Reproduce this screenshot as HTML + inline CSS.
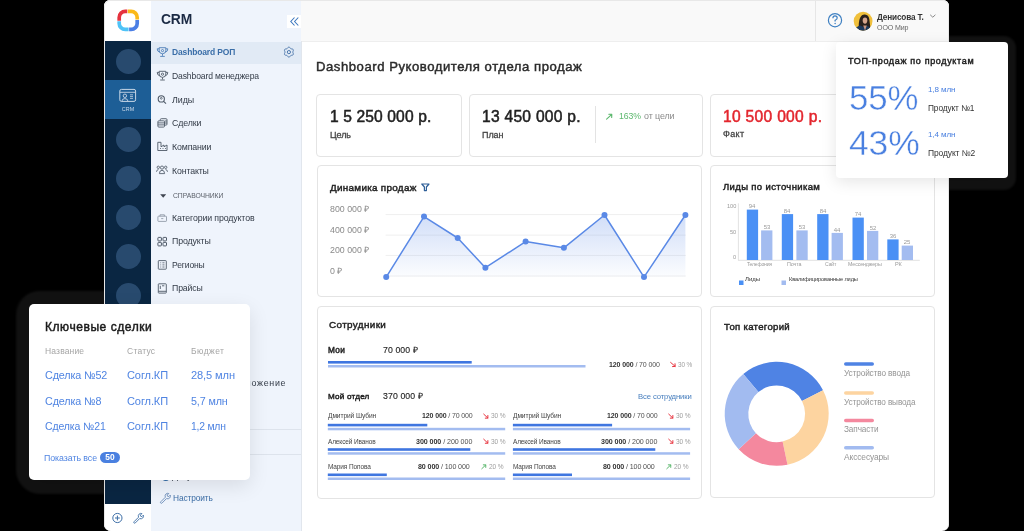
<!DOCTYPE html><html><head><meta charset="utf-8"><title>CRM Dashboard</title><style>
*{margin:0;padding:0;box-sizing:border-box}
html,body{width:1024px;height:531px;overflow:hidden;background:#000}
body{position:relative;font-family:"Liberation Sans",sans-serif}
.t{position:absolute;white-space:nowrap;line-height:1;will-change:transform}
#win{position:absolute;left:0;top:0;width:1024px;height:531px;clip-path:inset(0px 75px 0px 104px round 6px 6px 7px 7px);background:#fff}
svg.ov{position:absolute;left:0;top:0;width:1024px;height:531px}
.bl{display:inline-block;width:0;height:0;vertical-align:baseline}
.m{-webkit-text-stroke:0.25px currentColor}
</style></head><body>
<div style="position:absolute;left:15.5px;top:291px;width:260px;height:203px;border-radius:24px;background:#121212;filter:blur(0.8px)"></div>
<div style="position:absolute;left:820px;top:36px;width:195.5px;height:153.5px;border-radius:12px;background:#121212;filter:blur(0.8px)"></div>
<div id="win">
<div style="position:absolute;left:104px;top:0px;width:47px;height:41px;background:#fff"></div>
<div style="position:absolute;left:151px;top:0px;width:150px;height:41px;background:#eff4fc"></div>
<div style="position:absolute;left:301px;top:0px;width:648px;height:42px;background:#f9f9f9;border-bottom:1.4px solid #eeeeee"></div>
<div style="position:absolute;left:815px;top:0px;width:1px;height:41px;background:#e6e6e6"></div>
<div style="position:absolute;left:105px;top:41px;width:46px;height:463px;background:#0a2642"></div>
<div style="position:absolute;left:105px;top:80px;width:46px;height:39px;background:#1d5e96"></div>
<div style="position:absolute;left:104px;top:504px;width:47px;height:27px;background:#fff"></div>
<div style="position:absolute;left:151px;top:41px;width:151px;height:490px;background:#eff4fc;border-right:1px solid #e1e6ed"></div>
<div style="position:absolute;left:151px;top:41.5px;width:150px;height:22px;background:#e1eaf5"></div>
<div style="position:absolute;left:151px;top:429px;width:150px;height:1px;background:#dde3ec"></div>
<div style="position:absolute;left:151px;top:453.5px;width:150px;height:1px;background:#dde3ec"></div>
<div style="position:absolute;left:116.0px;top:48.5px;width:25px;height:25px;border-radius:50%;background:#284a6e"></div>
<div style="position:absolute;left:116.0px;top:127.0px;width:25px;height:25px;border-radius:50%;background:#284a6e"></div>
<div style="position:absolute;left:116.0px;top:166.0px;width:25px;height:25px;border-radius:50%;background:#284a6e"></div>
<div style="position:absolute;left:116.0px;top:205.0px;width:25px;height:25px;border-radius:50%;background:#284a6e"></div>
<div style="position:absolute;left:116.0px;top:244.0px;width:25px;height:25px;border-radius:50%;background:#284a6e"></div>
<div style="position:absolute;left:116.0px;top:283.0px;width:25px;height:25px;border-radius:50%;background:#284a6e"></div>
<div style="position:absolute;left:116.0px;top:322.0px;width:25px;height:25px;border-radius:50%;background:#284a6e"></div>
<div style="position:absolute;left:116.0px;top:361.0px;width:25px;height:25px;border-radius:50%;background:#284a6e"></div>
<div style="position:absolute;left:116.0px;top:400.0px;width:25px;height:25px;border-radius:50%;background:#284a6e"></div>
<div style="position:absolute;left:116.0px;top:439.0px;width:25px;height:25px;border-radius:50%;background:#284a6e"></div>
<div style="position:absolute;left:287px;top:15px;width:14px;height:13px;background:#fff"></div>
<div style="position:absolute;left:316px;top:94px;width:146px;height:62.5px;border:1px solid #e4e4e4;border-radius:4px;background:#fff"></div>
<div style="position:absolute;left:468.5px;top:94px;width:234px;height:62.5px;border:1px solid #e4e4e4;border-radius:4px;background:#fff"></div>
<div style="position:absolute;left:709.5px;top:94px;width:226px;height:62.5px;border:1px solid #e4e4e4;border-radius:4px;background:#fff"></div>
<div style="position:absolute;left:316.5px;top:165px;width:385.5px;height:132px;border:1px solid #e4e4e4;border-radius:4px;background:#fff"></div>
<div style="position:absolute;left:709.5px;top:165px;width:225px;height:132px;border:1px solid #e4e4e4;border-radius:4px;background:#fff"></div>
<div style="position:absolute;left:316.5px;top:305.5px;width:385.5px;height:193px;border:1px solid #e4e4e4;border-radius:4px;background:#fff"></div>
<div style="position:absolute;left:709.5px;top:305.5px;width:225px;height:192px;border:1px solid #e4e4e4;border-radius:4px;background:#fff"></div>
<div style="position:absolute;left:595px;top:106px;width:1px;height:37px;background:#e3e3e3"></div>
<svg class="ov" viewBox="0 0 1024 531"><defs><linearGradient id="lg" x1="0" y1="0" x2="0" y2="1"><stop offset="0" stop-color="#5b8ae6" stop-opacity="0.28"/><stop offset="1" stop-color="#5b8ae6" stop-opacity="0.02"/></linearGradient></defs><line x1="385.6" y1="214.6" x2="685.8" y2="214.6" stroke="#efefef" stroke-width="1"/><line x1="385.6" y1="235.1" x2="685.8" y2="235.1" stroke="#efefef" stroke-width="1"/><line x1="385.6" y1="255.4" x2="685.8" y2="255.4" stroke="#efefef" stroke-width="1"/><line x1="385.6" y1="276" x2="685.8" y2="276" stroke="#efefef" stroke-width="1"/><polygon points="386.2,277 386.2,277.1 424,216.6 457.7,238 485.4,267.7 525.6,241.6 563.9,247.8 604.5,215 644,277.1 685.4,215 685.4,277" fill="url(#lg)"/><polyline points="386.2,277.1 424,216.6 457.7,238 485.4,267.7 525.6,241.6 563.9,247.8 604.5,215 644,277.1 685.4,215" fill="none" stroke="#5a89e6" stroke-width="1.5" stroke-linejoin="round"/><circle cx="386.2" cy="277.1" r="3" fill="#5a89e6"/><circle cx="424" cy="216.6" r="3" fill="#5a89e6"/><circle cx="457.7" cy="238" r="3" fill="#5a89e6"/><circle cx="485.4" cy="267.7" r="3" fill="#5a89e6"/><circle cx="525.6" cy="241.6" r="3" fill="#5a89e6"/><circle cx="563.9" cy="247.8" r="3" fill="#5a89e6"/><circle cx="604.5" cy="215" r="3" fill="#5a89e6"/><circle cx="644" cy="277.1" r="3" fill="#5a89e6"/><circle cx="685.4" cy="215" r="3" fill="#5a89e6"/><line x1="738.4" y1="203.3" x2="738.4" y2="260.3" stroke="#e2e2e2" stroke-width="1"/><line x1="738" y1="260.3" x2="919.8" y2="260.3" stroke="#e2e2e2" stroke-width="1"/><rect x="746.8" y="209.6" width="11.3" height="50.400000000000006" fill="#4a90f5"/><rect x="761.1" y="230.4" width="11.3" height="29.599999999999994" fill="#a3bcf0"/><rect x="781.8" y="214.1" width="11.3" height="45.900000000000006" fill="#4a90f5"/><rect x="796.4" y="230.4" width="11.3" height="29.599999999999994" fill="#a3bcf0"/><rect x="817.2" y="214.1" width="11.3" height="45.900000000000006" fill="#4a90f5"/><rect x="831.6" y="232.9" width="11.3" height="27.099999999999994" fill="#a3bcf0"/><rect x="852.5" y="217.6" width="11.3" height="42.400000000000006" fill="#4a90f5"/><rect x="867" y="230.9" width="11.3" height="29.099999999999994" fill="#a3bcf0"/><rect x="887.3" y="239.4" width="11.3" height="20.599999999999994" fill="#4a90f5"/><rect x="901.7" y="245.6" width="11.3" height="14.400000000000006" fill="#a3bcf0"/><rect x="739" y="280.5" width="4.5" height="4.5" fill="#4a90f5"/><rect x="781.5" y="280.5" width="4.5" height="4.5" fill="#a3bcf0"/><path d="M743.28,373.97 A52,52 0 0 1 823.03,390.19 L802.00,400.91 A28.4,28.4 0 0 0 758.44,392.04 Z" fill="#4f83e4"/><path d="M823.03,390.19 A52,52 0 0 1 787.51,464.66 L782.60,441.58 A28.4,28.4 0 0 0 802.00,400.91 Z" fill="#fdd4a0"/><path d="M787.51,464.66 A52,52 0 0 1 738.67,449.26 L755.93,433.17 A28.4,28.4 0 0 0 782.60,441.58 Z" fill="#f4889e"/><path d="M738.67,449.26 A52,52 0 0 1 743.28,373.97 L758.44,392.04 A28.4,28.4 0 0 0 755.93,433.17 Z" fill="#a2bbf0"/><rect x="844" y="362.25" width="30" height="3.5" rx="1.75" fill="#4f83e4"/><rect x="844" y="391.25" width="30" height="3.5" rx="1.75" fill="#fdd4a0"/><rect x="844" y="418.65" width="30" height="3.5" rx="1.75" fill="#f4889e"/><rect x="844" y="446.05" width="30" height="3.5" rx="1.75" fill="#a2bbf0"/><rect x="328" y="361" width="143.7" height="2.6" fill="#3f76e0"/><rect x="328" y="365" width="257.5" height="2.5" fill="#a3bcf0"/><rect x="327.8" y="423.8" width="99.5" height="2.6" fill="#3f76e0"/><rect x="327.8" y="427.8" width="177.39999999999998" height="2.5" fill="#a3bcf0"/><rect x="512.9" y="423.8" width="99.20000000000005" height="2.6" fill="#3f76e0"/><rect x="512.9" y="427.8" width="177.20000000000005" height="2.5" fill="#a3bcf0"/><rect x="327.8" y="448.2" width="142.5" height="2.6" fill="#3f76e0"/><rect x="327.8" y="452.2" width="177.39999999999998" height="2.5" fill="#a3bcf0"/><rect x="512.9" y="448.2" width="142.39999999999998" height="2.6" fill="#3f76e0"/><rect x="512.9" y="452.2" width="177.20000000000005" height="2.5" fill="#a3bcf0"/><rect x="327.8" y="473.5" width="59.0" height="2.6" fill="#3f76e0"/><rect x="327.8" y="477.5" width="177.39999999999998" height="2.5" fill="#a3bcf0"/><rect x="512.9" y="473.5" width="59.10000000000002" height="2.6" fill="#3f76e0"/><rect x="512.9" y="477.5" width="177.20000000000005" height="2.5" fill="#a3bcf0"/><path d="M119.20,20.80 L119.20,17.40 A6.0,6.0 0 0 1 125.20,11.40 L127.30,11.40" fill="none" stroke="#e5323e" stroke-width="3.7" transform="rotate(0 128.2 20.4)"/><path d="M119.20,20.80 L119.20,17.40 A6.0,6.0 0 0 1 125.20,11.40 L127.30,11.40" fill="none" stroke="#fbb91a" stroke-width="3.7" transform="rotate(90 128.2 20.4)"/><path d="M119.20,20.80 L119.20,17.40 A6.0,6.0 0 0 1 125.20,11.40 L127.30,11.40" fill="none" stroke="#4b7fe5" stroke-width="3.7" transform="rotate(180 128.2 20.4)"/><path d="M119.20,20.80 L119.20,17.40 A6.0,6.0 0 0 1 125.20,11.40 L127.30,11.40" fill="none" stroke="#4fc3f7" stroke-width="3.7" transform="rotate(270 128.2 20.4)"/><path d="M294.5,17.5 L290.8,21.5 L294.5,25.5 M298.3,17.5 L294.6,21.5 L298.3,25.5" fill="none" stroke="#3d78bf" stroke-width="1.1"/><rect x="119.8" y="89.4" width="15.8" height="12" rx="1.6" fill="none" stroke="#c7d6e6" stroke-width="1"/><line x1="119.8" y1="92.3" x2="135.6" y2="92.3" stroke="#c7d6e6" stroke-width="0.9"/><circle cx="124.9" cy="95.8" r="1.7" fill="none" stroke="#c7d6e6" stroke-width="0.9"/><path d="M121.8,101.4 Q122,98.6 124.9,98.6 Q127.8,98.6 128,101.4" fill="none" stroke="#c7d6e6" stroke-width="0.9"/><path d="M130,94.8 H133 M130,96.6 H133 M130,98.4 H133" stroke="#c7d6e6" stroke-width="0.8"/><circle cx="835" cy="20.2" r="6.6" fill="none" stroke="#3f80c2" stroke-width="1.2"/><path d="M832.9,18.3 Q832.9,15.9 835,15.9 Q837.2,15.9 837.2,18 Q837.2,19.4 835.1,20.3 L835.1,21.6" fill="none" stroke="#3f80c2" stroke-width="1.2"/><circle cx="835.1" cy="23.6" r="0.75" fill="#3f80c2"/><defs><clipPath id="av"><circle cx="863.1" cy="21.1" r="9.4"/></clipPath></defs><g clip-path="url(#av)"><rect x="853" y="11" width="21" height="21" fill="#f0c03c"/><path d="M858.8,31 Q858.2,22 860,18 Q861.8,14.3 865,14.6 Q868.6,15 869.3,19 Q869.8,24 871,31 Z" fill="#2a211c"/><ellipse cx="865" cy="20.6" rx="2.3" ry="3.1" fill="#d6a58c"/><path d="M854,32 Q855.5,26.5 860.2,25.6 L863.5,27 L866.8,25.8 Q870.8,26.8 872.5,32 Z" fill="#1d3a5e"/><path d="M863.2,25.4 L865,30.5 L866.8,25.4 Z" fill="#c89682"/></g><path d="M930.2,14.8 L932.8,17.2 L935.4,14.8" fill="none" stroke="#888" stroke-width="1"/><g fill="none" stroke="#4e7fb8" stroke-width="0.9"><path d="M159.2,47.7 H165.8 V50.5 Q165.8,53.6 162.5,53.8 Q159.2,53.6 159.2,50.5 Z"/><path d="M159.2,48.8 H157.2 Q157.2,51.6 159.7,52.2 M165.8,48.8 H167.8 Q167.8,51.6 165.3,52.2"/><path d="M162.5,53.8 V55.8 M160.2,56.4 H164.8"/><circle cx="162.5" cy="50.6" r="1.1"/></g><g fill="none" stroke="#4f5a68" stroke-width="0.9"><path d="M159.2,71.3 H165.8 V74.1 Q165.8,77.19999999999999 162.5,77.39999999999999 Q159.2,77.19999999999999 159.2,74.1 Z"/><path d="M159.2,72.39999999999999 H157.2 Q157.2,75.19999999999999 159.7,75.8 M165.8,72.39999999999999 H167.8 Q167.8,75.19999999999999 165.3,75.8"/><path d="M162.5,77.39999999999999 V79.39999999999999 M160.2,80.0 H164.8"/><circle cx="162.5" cy="74.19999999999999" r="1.1"/></g><g fill="none" stroke="#4f5a68" stroke-width="1.1"><circle cx="161.3" cy="98.9" r="3.1"/><path d="M163.6,101.3 L166,103.6"/><circle cx="161.3" cy="98.3" r="0.9" stroke-width="0.8"/></g><g fill="none" stroke="#4f5a68" stroke-width="0.9"><path d="M160.3,120.6 V119.6 Q160.3,118.7 161.3,118.7 H166 Q167,118.7 167,119.7 V124.2 Q167,125.1 166,125.1 H164.6"/><rect x="157.9" y="120.8" width="6.6" height="6.3" rx="1" fill="#eff4fc"/><path d="M157.9,122.9 H164.5 M157.9,124.9 H164.5 M164.6,121 H167 M164.6,123 H167"/></g><g fill="none" stroke="#4f5a68" stroke-width="0.9"><path d="M157.8,142.3 V150.5 H167 V145 L164,146.8 V145 L161,146.8 V142.3 Z"/><path d="M160,148.5 H161 M162.5,148.5 H163.5 M165,148.5 H166" stroke-width="0.8"/></g><g fill="none" stroke="#4f5a68" stroke-width="0.85"><circle cx="162" cy="167.6" r="1.6"/><circle cx="158.3" cy="167.3" r="1.2"/><circle cx="165.7" cy="167.3" r="1.2"/><path d="M159.4,173.6 Q159.4,170.3 162,170.3 Q164.6,170.3 164.6,173.6 Z"/><path d="M156.5,171.8 Q156.6,169.6 158.5,169.6 M167.5,171.8 Q167.4,169.6 165.5,169.6"/></g><path d="M160.2,194.2 L166.2,194.2 L163.2,197.7 Z" fill="#3f4550"/><g fill="none" stroke="#8d96a3" stroke-width="0.85"><rect x="157.9" y="216.2" width="8.6" height="5.2" rx="0.6"/><path d="M160,216.2 V214.8 H164.4 V216.2 M161.2,218.6 H163.3"/></g><g fill="none" stroke="#4f5a68" stroke-width="1"><rect x="157.9" y="237.4" width="3.5" height="3.5" rx="0.6"/><rect x="163" y="237.4" width="3.5" height="3.5" rx="0.6"/><rect x="157.9" y="242.4" width="3.5" height="3.5" rx="0.6"/><rect x="163" y="242.4" width="3.5" height="3.5" rx="0.6"/></g><g fill="none" stroke="#4f5a68" stroke-width="0.9"><rect x="158.3" y="260.6" width="8" height="8.6" rx="0.6"/><path d="M160.3,262.8 H161.2 M162.4,262.8 H164.5 M160.3,264.9 H161.2 M162.4,264.9 H164.5 M160.3,267 H161.2 M162.4,267 H164.5" stroke-width="0.8"/></g><g fill="none" stroke="#4f5a68" stroke-width="0.9"><rect x="158.3" y="283.8" width="8" height="9.3" rx="0.6"/><path d="M158.3,291.3 H166.3 M160.3,285.8 V289 M162,285.8 H164.3"/></g><polygon points="288.90,47.10 289.33,47.19 289.72,47.45 290.05,47.80 290.33,48.18 290.58,48.50 290.85,48.72 291.18,48.84 291.58,48.90 292.05,48.95 292.52,49.06 292.94,49.27 293.23,49.60 293.36,50.02 293.34,50.48 293.20,50.95 293.01,51.38 292.86,51.75 292.80,52.10 292.86,52.45 293.01,52.82 293.20,53.25 293.34,53.72 293.36,54.18 293.23,54.60 292.94,54.93 292.52,55.14 292.05,55.25 291.58,55.30 291.18,55.36 290.85,55.48 290.58,55.70 290.33,56.02 290.05,56.40 289.72,56.75 289.33,57.01 288.90,57.10 288.47,57.01 288.08,56.75 287.75,56.40 287.47,56.02 287.22,55.70 286.95,55.48 286.62,55.36 286.22,55.30 285.75,55.25 285.28,55.14 284.86,54.93 284.57,54.60 284.44,54.18 284.46,53.72 284.60,53.25 284.79,52.82 284.94,52.45 285.00,52.10 284.94,51.75 284.79,51.38 284.60,50.95 284.46,50.48 284.44,50.02 284.57,49.60 284.86,49.27 285.28,49.06 285.75,48.95 286.22,48.90 286.62,48.84 286.95,48.72 287.22,48.50 287.47,48.18 287.75,47.80 288.08,47.45 288.47,47.19" fill="none" stroke="#4d78ad" stroke-width="1" stroke-linejoin="round"/><circle cx="288.9" cy="52.1" r="1.6" fill="none" stroke="#4d78ad" stroke-width="1"/><circle cx="165.8" cy="477.2" r="3.8" fill="#2f6aa6"/><g transform="translate(164.8,497.5) scale(0.87)" fill="none" stroke="#6a8cb8" stroke-width="1.03" stroke-linejoin="round"><path d="M-4.5,4.8 L0.6,-0.3 Q-0.2,-2.6 1.3,-4 Q2.8,-5.3 4.6,-4.6 L2.8,-2.8 L3.2,-1.4 L4.6,-1 L6.3,-2.8 Q7,-0.9 5.6,0.6 Q4.2,2 1.9,1.3 L-3.2,6.4 Q-4,7.1 -4.8,6.3 Q-5.4,5.6 -4.5,4.8 Z"/></g><g transform="translate(138,517.5) scale(0.85)" fill="none" stroke="#3d6ea6" stroke-width="1.06" stroke-linejoin="round"><path d="M-4.5,4.8 L0.6,-0.3 Q-0.2,-2.6 1.3,-4 Q2.8,-5.3 4.6,-4.6 L2.8,-2.8 L3.2,-1.4 L4.6,-1 L6.3,-2.8 Q7,-0.9 5.6,0.6 Q4.2,2 1.9,1.3 L-3.2,6.4 Q-4,7.1 -4.8,6.3 Q-5.4,5.6 -4.5,4.8 Z"/></g><circle cx="117.4" cy="518" r="4.6" fill="none" stroke="#3d6ea6" stroke-width="1"/><path d="M117.4,515.6 V520.4 M115,518 H119.8" stroke="#3d6ea6" stroke-width="1"/><path d="M606.60,119.20 L611.80,114.40 M611.68,117.40 L611.80,114.40 L608.80,114.28" fill="none" stroke="#5cb86e" stroke-width="1.1" stroke-linecap="round" stroke-linejoin="round"/><path d="M670.60,362.40 L675.20,366.40 M672.51,366.59 L675.20,366.40 L675.01,363.71" fill="none" stroke="#e8343f" stroke-width="1.0" stroke-linecap="round" stroke-linejoin="round"/><path d="M483.70,414.10 L487.90,418.10 M485.30,418.16 L487.90,418.10 L487.84,415.50" fill="none" stroke="#e8343f" stroke-width="1.0" stroke-linecap="round" stroke-linejoin="round"/><path d="M668.70,414.10 L672.90,418.10 M670.30,418.16 L672.90,418.10 L672.84,415.50" fill="none" stroke="#e8343f" stroke-width="1.0" stroke-linecap="round" stroke-linejoin="round"/><path d="M483.70,439.20 L487.90,443.20 M485.30,443.26 L487.90,443.20 L487.84,440.60" fill="none" stroke="#e8343f" stroke-width="1.0" stroke-linecap="round" stroke-linejoin="round"/><path d="M668.70,439.20 L672.90,443.20 M670.30,443.26 L672.90,443.20 L672.84,440.60" fill="none" stroke="#e8343f" stroke-width="1.0" stroke-linecap="round" stroke-linejoin="round"/><path d="M481.80,468.70 L485.80,464.90 M485.74,467.40 L485.80,464.90 L483.30,464.84" fill="none" stroke="#5cb86e" stroke-width="1.0" stroke-linecap="round" stroke-linejoin="round"/><path d="M666.80,468.70 L670.80,464.90 M670.74,467.40 L670.80,464.90 L668.30,464.84" fill="none" stroke="#5cb86e" stroke-width="1.0" stroke-linecap="round" stroke-linejoin="round"/><path d="M421.8,184 H429 L426.4,187 V190.6 H424.4 V187 Z" fill="none" stroke="#2e5f98" stroke-width="1.2" stroke-linejoin="round"/></svg>
<div id="t1" class="t" style="left:161px;top:12.50px;font-size:13.83px;color:#1b2a44;font-weight:700;letter-spacing:-0.129px;">CRM<span class="bl"></span></div>
<div id="t2" class="t" style="left:877px;top:13.60px;font-size:8.195px;color:#333;font-weight:700;letter-spacing:-0.130px;">Денисова Т.<span class="bl"></span></div>
<div id="t3" class="t" style="left:877px;top:23.60px;font-size:7.073px;color:#666;font-weight:400;letter-spacing:-0.112px;">ООО Мир<span class="bl"></span></div>
<div id="t4" class="t" style="left:316px;top:59.82px;font-size:13.1px;color:#2b2b2b;font-weight:400;letter-spacing:0.550px;-webkit-text-stroke:0.45px currentColor;">Dashboard Руководителя отдела продаж<span class="bl"></span></div>
<div id="t5" class="t" style="left:330.4px;top:108.51px;font-size:15.6px;color:#222;font-weight:400;letter-spacing:0.121px;-webkit-text-stroke:0.5px currentColor;">1 5 250 000 р.<span class="bl"></span></div>
<div id="t6" class="t" style="left:330.3px;top:130.61px;font-size:9.0px;color:#444;font-weight:400;letter-spacing:-0.103px;-webkit-text-stroke:0.3px currentColor;">Цель<span class="bl"></span></div>
<div id="t7" class="t" style="left:482.1px;top:108.51px;font-size:15.6px;color:#222;font-weight:400;letter-spacing:0.268px;-webkit-text-stroke:0.5px currentColor;">13 450 000 р.<span class="bl"></span></div>
<div id="t8" class="t" style="left:482.1px;top:130.61px;font-size:9.0px;color:#444;font-weight:400;letter-spacing:-0.064px;-webkit-text-stroke:0.3px currentColor;">План<span class="bl"></span></div>
<div id="t9" class="t" style="left:619.1px;top:112.10px;font-size:8.708px;color:#5cb86e;font-weight:400;letter-spacing:-0.117px;">163%<span class="bl"></span></div>
<div id="t10" class="t" style="left:644.1px;top:112.11px;font-size:8.925px;color:#8a8a8a;font-weight:400;letter-spacing:-0.107px;">от цели<span class="bl"></span></div>
<div id="t11" class="t" style="left:723.3px;top:108.72px;font-size:15.6px;color:#e3262e;font-weight:400;letter-spacing:0.302px;-webkit-text-stroke:0.5px currentColor;">10 500 000 р.<span class="bl"></span></div>
<div id="t12" class="t" style="left:723.3px;top:130.41px;font-size:9.0px;color:#444;font-weight:400;letter-spacing:0.333px;-webkit-text-stroke:0.3px currentColor;">Факт<span class="bl"></span></div>
<div id="t13" class="t" style="left:330.1px;top:182.81px;font-size:9.9px;color:#222;font-weight:400;letter-spacing:0.291px;-webkit-text-stroke:0.45px currentColor;">Динамика продаж<span class="bl"></span></div>
<div id="t14" class="t" style="left:330.3px;top:205.30px;font-size:8.8px;color:#8a8a8a;font-weight:400;letter-spacing:0.018px;">800 000 ₽<span class="bl"></span></div>
<div id="t15" class="t" style="left:330.3px;top:225.80px;font-size:8.8px;color:#8a8a8a;font-weight:400;letter-spacing:0.018px;">400 000 ₽<span class="bl"></span></div>
<div id="t16" class="t" style="left:330.3px;top:246.30px;font-size:8.8px;color:#8a8a8a;font-weight:400;letter-spacing:0.018px;">200 000 ₽<span class="bl"></span></div>
<div id="t17" class="t" style="left:330.3px;top:266.70px;font-size:8.8px;color:#8a8a8a;font-weight:400;letter-spacing:0.071px;">0 ₽<span class="bl"></span></div>
<div id="t18" class="t" style="left:723.4px;top:181.71px;font-size:9.517px;color:#222;font-weight:400;letter-spacing:0.363px;-webkit-text-stroke:0.45px currentColor;">Лиды по источникам<span class="bl"></span></div>
<div id="t19" class="t" style="right:288px;top:203.51px;font-size:5.6px;color:#9a9a9a;font-weight:400;">100<span class="bl"></span></div>
<div id="t20" class="t" style="right:288px;top:229.61px;font-size:5.6px;color:#9a9a9a;font-weight:400;">50<span class="bl"></span></div>
<div id="t21" class="t" style="right:288px;top:255.01px;font-size:5.6px;color:#9a9a9a;font-weight:400;">0<span class="bl"></span></div>
<div id="t22" class="t" style="left:602.4499999999999px;width:300px;text-align:center;top:203.21px;font-size:6.0px;color:#9a9a9a;font-weight:400;">94<span class="bl"></span></div>
<div id="t23" class="t" style="left:616.75px;width:300px;text-align:center;top:224.01px;font-size:6.0px;color:#9a9a9a;font-weight:400;">53<span class="bl"></span></div>
<div id="t24" class="t" style="left:637.4499999999999px;width:300px;text-align:center;top:207.71px;font-size:6.0px;color:#9a9a9a;font-weight:400;">84<span class="bl"></span></div>
<div id="t25" class="t" style="left:652.05px;width:300px;text-align:center;top:224.01px;font-size:6.0px;color:#9a9a9a;font-weight:400;">53<span class="bl"></span></div>
<div id="t26" class="t" style="left:672.85px;width:300px;text-align:center;top:207.71px;font-size:6.0px;color:#9a9a9a;font-weight:400;">84<span class="bl"></span></div>
<div id="t27" class="t" style="left:687.25px;width:300px;text-align:center;top:226.51px;font-size:6.0px;color:#9a9a9a;font-weight:400;">44<span class="bl"></span></div>
<div id="t28" class="t" style="left:708.15px;width:300px;text-align:center;top:211.21px;font-size:6.0px;color:#9a9a9a;font-weight:400;">74<span class="bl"></span></div>
<div id="t29" class="t" style="left:722.65px;width:300px;text-align:center;top:224.51px;font-size:6.0px;color:#9a9a9a;font-weight:400;">52<span class="bl"></span></div>
<div id="t30" class="t" style="left:742.9499999999999px;width:300px;text-align:center;top:233.01px;font-size:6.0px;color:#9a9a9a;font-weight:400;">36<span class="bl"></span></div>
<div id="t31" class="t" style="left:757.35px;width:300px;text-align:center;top:239.21px;font-size:6.0px;color:#9a9a9a;font-weight:400;">25<span class="bl"></span></div>
<div id="t32" class="t" style="left:747.1px;top:261.81px;font-size:5.04px;color:#9a9a9a;font-weight:400;letter-spacing:-0.171px;">Телефония<span class="bl"></span></div>
<div id="t33" class="t" style="left:787.4px;top:261.81px;font-size:5.391px;color:#9a9a9a;font-weight:400;letter-spacing:-0.111px;">Почта<span class="bl"></span></div>
<div id="t34" class="t" style="left:825px;top:261.82px;font-size:5.13px;color:#9a9a9a;font-weight:400;letter-spacing:-0.119px;">Сайт<span class="bl"></span></div>
<div id="t35" class="t" style="left:847.9px;top:261.80px;font-size:5.294px;color:#9a9a9a;font-weight:400;letter-spacing:-0.114px;">Мессенджеры<span class="bl"></span></div>
<div id="t36" class="t" style="left:894.8px;top:261.81px;font-size:5.6px;color:#9a9a9a;font-weight:400;letter-spacing:-0.298px;">РК<span class="bl"></span></div>
<div id="t37" class="t" style="left:745.3px;top:276.01px;font-size:6.0px;color:#333;font-weight:400;letter-spacing:-0.023px;">Лиды<span class="bl"></span></div>
<div id="t38" class="t" style="left:788.8px;top:277.00px;font-size:5.667px;color:#333;font-weight:400;letter-spacing:-0.113px;">Квалифицированные лиды<span class="bl"></span></div>
<div id="t39" class="t" style="left:328.7px;top:319.61px;font-size:9.9px;color:#222;font-weight:400;letter-spacing:0.377px;-webkit-text-stroke:0.45px currentColor;">Сотрудники<span class="bl"></span></div>
<div id="t40" class="t" style="left:328.1px;top:347.01px;font-size:8.259px;color:#222;font-weight:400;letter-spacing:0.288px;-webkit-text-stroke:0.45px currentColor;">Мои<span class="bl"></span></div>
<div id="t41" class="t" style="left:382.6px;top:346.01px;font-size:8.7px;color:#222;font-weight:400;letter-spacing:0.114px;-webkit-text-stroke:0.12px currentColor;">70 000 ₽<span class="bl"></span></div>
<div id="t42" class="t" style="left:328.1px;top:393.10px;font-size:8.103px;color:#222;font-weight:400;letter-spacing:0.222px;-webkit-text-stroke:0.45px currentColor;">Мой отдел<span class="bl"></span></div>
<div id="t43" class="t" style="left:382.6px;top:392.11px;font-size:8.7px;color:#222;font-weight:400;letter-spacing:0.120px;-webkit-text-stroke:0.12px currentColor;">370 000 ₽<span class="bl"></span></div>
<div id="t44" class="t" style="left:637.9px;top:392.91px;font-size:7.691px;color:#4a80bf;font-weight:400;letter-spacing:-0.124px;">Все сотрудники<span class="bl"></span></div>
<div id="t45" class="t" style="left:608.8px;top:360.51px;font-size:7.027px;color:#505050;font-weight:400;letter-spacing:-0.117px;"><b style="color:#333">120 000</b> / 70 000<span class="bl"></span></div>
<div id="t46" class="t" style="left:678.1px;top:361.50px;font-size:6.427px;color:#a0a0a0;font-weight:400;letter-spacing:-0.110px;">30 %<span class="bl"></span></div>
<div id="t47" class="t" style="left:328px;top:413.40px;font-size:6.677px;color:#444;font-weight:400;letter-spacing:-0.113px;">Дмитрий Шубин<span class="bl"></span></div>
<div id="t48" class="t" style="left:421.7px;top:412.41px;font-size:7.0px;color:#505050;font-weight:400;letter-spacing:-0.122px;"><b style="color:#333">120 000</b> / 70 000<span class="bl"></span></div>
<div id="t49" class="t" style="left:491px;top:413.41px;font-size:6.564px;color:#a0a0a0;font-weight:400;letter-spacing:-0.115px;">30 %<span class="bl"></span></div>
<div id="t50" class="t" style="left:513px;top:413.40px;font-size:6.677px;color:#444;font-weight:400;letter-spacing:-0.113px;">Дмитрий Шубин<span class="bl"></span></div>
<div id="t51" class="t" style="left:606.7px;top:412.41px;font-size:7.0px;color:#505050;font-weight:400;letter-spacing:-0.122px;"><b style="color:#333">120 000</b> / 70 000<span class="bl"></span></div>
<div id="t52" class="t" style="left:676px;top:413.41px;font-size:6.564px;color:#a0a0a0;font-weight:400;letter-spacing:-0.115px;">30 %<span class="bl"></span></div>
<div id="t53" class="t" style="left:328px;top:438.51px;font-size:6.49px;color:#444;font-weight:400;letter-spacing:-0.122px;">Алексей Иванов<span class="bl"></span></div>
<div id="t54" class="t" style="left:416.1px;top:438.51px;font-size:7.1px;color:#505050;font-weight:400;letter-spacing:-0.055px;"><b style="color:#333">300 000</b> / 200 000<span class="bl"></span></div>
<div id="t55" class="t" style="left:491px;top:438.51px;font-size:6.564px;color:#a0a0a0;font-weight:400;letter-spacing:-0.115px;">30 %<span class="bl"></span></div>
<div id="t56" class="t" style="left:513px;top:438.51px;font-size:6.49px;color:#444;font-weight:400;letter-spacing:-0.122px;">Алексей Иванов<span class="bl"></span></div>
<div id="t57" class="t" style="left:601.1px;top:438.51px;font-size:7.1px;color:#505050;font-weight:400;letter-spacing:-0.055px;"><b style="color:#333">300 000</b> / 200 000<span class="bl"></span></div>
<div id="t58" class="t" style="left:676px;top:438.51px;font-size:6.564px;color:#a0a0a0;font-weight:400;letter-spacing:-0.115px;">30 %<span class="bl"></span></div>
<div id="t59" class="t" style="left:328px;top:464.21px;font-size:6.509px;color:#444;font-weight:400;letter-spacing:-0.119px;">Мария Попова<span class="bl"></span></div>
<div id="t60" class="t" style="left:418.3px;top:464.20px;font-size:7.1px;color:#505050;font-weight:400;letter-spacing:-0.102px;"><b style="color:#333">80 000</b> / 100 000<span class="bl"></span></div>
<div id="t61" class="t" style="left:489.2px;top:464.21px;font-size:6.564px;color:#a0a0a0;font-weight:400;letter-spacing:-0.115px;">20 %<span class="bl"></span></div>
<div id="t62" class="t" style="left:513px;top:464.21px;font-size:6.509px;color:#444;font-weight:400;letter-spacing:-0.119px;">Мария Попова<span class="bl"></span></div>
<div id="t63" class="t" style="left:603.3px;top:464.20px;font-size:7.1px;color:#505050;font-weight:400;letter-spacing:-0.102px;"><b style="color:#333">80 000</b> / 100 000<span class="bl"></span></div>
<div id="t64" class="t" style="left:674.2px;top:464.21px;font-size:6.564px;color:#a0a0a0;font-weight:400;letter-spacing:-0.115px;">20 %<span class="bl"></span></div>
<div id="t65" class="t" style="left:724.3px;top:321.51px;font-size:9.591px;color:#222;font-weight:400;letter-spacing:0.302px;-webkit-text-stroke:0.45px currentColor;">Топ категорий<span class="bl"></span></div>
<div id="t66" class="t" style="left:843.9px;top:370.31px;font-size:8.242px;color:#959595;font-weight:400;letter-spacing:-0.118px;">Устройство ввода<span class="bl"></span></div>
<div id="t67" class="t" style="left:843.9px;top:399.41px;font-size:8.207px;color:#959595;font-weight:400;letter-spacing:-0.111px;">Устройство вывода<span class="bl"></span></div>
<div id="t68" class="t" style="left:843.9px;top:426.31px;font-size:8.238px;color:#959595;font-weight:400;letter-spacing:-0.110px;">Запчасти<span class="bl"></span></div>
<div id="t69" class="t" style="left:843.9px;top:452.81px;font-size:8.422px;color:#959595;font-weight:400;letter-spacing:-0.112px;">Акссесуары<span class="bl"></span></div>
<div id="t70" class="t" style="left:-22px;width:300px;text-align:center;top:106.80px;font-size:5.4px;color:#c9d8e8;font-weight:400;">CRM<span class="bl"></span></div>
<div id="t71" class="t" style="left:172px;top:48.11px;font-size:8.48px;color:#3a6ea8;font-weight:700;letter-spacing:-0.128px;">Dashboard РОП<span class="bl"></span></div>
<div id="t72" class="t" style="left:172px;top:71.81px;font-size:8.586px;color:#333b47;font-weight:400;letter-spacing:-0.130px;">Dashboard менеджера<span class="bl"></span></div>
<div id="t73" class="t" style="left:172px;top:95.50px;font-size:8.9px;color:#333b47;font-weight:400;letter-spacing:-0.050px;">Лиды<span class="bl"></span></div>
<div id="t74" class="t" style="left:172px;top:119.31px;font-size:8.794px;color:#333b47;font-weight:400;letter-spacing:-0.128px;">Сделки<span class="bl"></span></div>
<div id="t75" class="t" style="left:172px;top:143.00px;font-size:8.806px;color:#333b47;font-weight:400;letter-spacing:-0.132px;">Компании<span class="bl"></span></div>
<div id="t76" class="t" style="left:172px;top:166.81px;font-size:8.757px;color:#333b47;font-weight:400;letter-spacing:-0.130px;">Контакты<span class="bl"></span></div>
<div id="t77" class="t" style="left:172px;top:213.71px;font-size:8.79px;color:#333b47;font-weight:400;letter-spacing:-0.129px;">Категории продуктов<span class="bl"></span></div>
<div id="t78" class="t" style="left:172px;top:237.41px;font-size:8.794px;color:#333b47;font-weight:400;letter-spacing:-0.128px;">Продукты<span class="bl"></span></div>
<div id="t79" class="t" style="left:172px;top:260.90px;font-size:8.542px;color:#333b47;font-weight:400;letter-spacing:-0.128px;">Регионы<span class="bl"></span></div>
<div id="t80" class="t" style="left:172px;top:284.31px;font-size:8.72px;color:#333b47;font-weight:400;letter-spacing:-0.136px;">Прайсы<span class="bl"></span></div>
<div id="t81" class="t" style="left:172px;top:307.81px;font-size:8.9px;color:#333b47;font-weight:400;">Склады<span class="bl"></span></div>
<div id="t82" class="t" style="left:172px;top:331.31px;font-size:8.9px;color:#333b47;font-weight:400;">Поставщики<span class="bl"></span></div>
<div id="t83" class="t" style="left:172px;top:354.81px;font-size:8.9px;color:#333b47;font-weight:400;">Отчёты<span class="bl"></span></div>
<div id="t84" class="t" style="left:172px;top:378.60px;font-size:8.9px;color:#333b47;font-weight:400;letter-spacing:0.711px;">Мобильное приложение<span class="bl"></span></div>
<div id="t85" class="t" style="left:172px;top:472.32px;font-size:8.9px;color:#333b47;font-weight:400;">Документы<span class="bl"></span></div>
<div id="t86" class="t" style="left:172.8px;top:494.01px;font-size:8.354px;color:#3d6ea6;font-weight:400;letter-spacing:-0.127px;">Настроить<span class="bl"></span></div>
<div id="t87" class="t" style="left:173.2px;top:193.41px;font-size:6.8px;color:#5a5f68;font-weight:400;letter-spacing:-0.062px;">СПРАВОЧНИКИ<span class="bl"></span></div>
<div style="position:absolute;left:104px;top:0;width:845px;height:532px;border:1px solid #e8e8e8;border-radius:6px 6px 7px 7px"></div>
</div>
<div style="position:absolute;left:836px;top:42px;width:172px;height:136px;background:#fff;border-radius:4px;box-shadow:0 4px 16px rgba(0,0,0,0.10)"></div>
<div id="t88" class="t" style="left:848.4px;top:56.71px;font-size:9.0px;color:#222;font-weight:400;letter-spacing:0.659px;-webkit-text-stroke:0.45px currentColor;">ТОП-продаж по продуктам<span class="bl"></span></div>
<div id="t89" class="t" style="left:848.8px;top:81.21px;font-size:34.805px;color:#4a80e0;font-weight:400;letter-spacing:-0.113px;-webkit-text-stroke:0.45px #fff;">55%<span class="bl"></span></div>
<div id="t90" class="t" style="left:848.8px;top:125.91px;font-size:35.485px;color:#4a80e0;font-weight:400;letter-spacing:-0.104px;-webkit-text-stroke:0.45px #fff;">43%<span class="bl"></span></div>
<div id="t91" class="t" style="left:928.4px;top:85.70px;font-size:8.064px;color:#4a80e0;font-weight:400;letter-spacing:-0.113px;">1,8 млн<span class="bl"></span></div>
<div id="t92" class="t" style="left:928.1px;top:103.60px;font-size:8.329px;color:#333;font-weight:400;letter-spacing:-0.109px;">Продукт №1<span class="bl"></span></div>
<div id="t93" class="t" style="left:928.4px;top:131.32px;font-size:8.064px;color:#4a80e0;font-weight:400;letter-spacing:-0.113px;">1,4 млн<span class="bl"></span></div>
<div id="t94" class="t" style="left:928.4px;top:149.32px;font-size:8.472px;color:#333;font-weight:400;letter-spacing:-0.119px;">Продукт №2<span class="bl"></span></div>
<div style="position:absolute;left:29px;top:304px;width:221px;height:175.5px;background:#fff;border-radius:5px;box-shadow:0 6px 20px rgba(0,0,0,0.10)"></div>
<div id="t95" class="t" style="left:44.5px;top:320.81px;font-size:12.063px;color:#1a1a1a;font-weight:400;letter-spacing:0.536px;-webkit-text-stroke:0.45px currentColor;">Ключевые сделки<span class="bl"></span></div>
<div id="t96" class="t" style="left:44.5px;top:347.01px;font-size:8.5px;color:#a5a5a5;font-weight:400;letter-spacing:0.154px;">Название<span class="bl"></span></div>
<div id="t97" class="t" style="left:127px;top:347.01px;font-size:8.5px;color:#a5a5a5;font-weight:400;letter-spacing:0.237px;">Статус<span class="bl"></span></div>
<div id="t98" class="t" style="left:190.6px;top:347.01px;font-size:8.5px;color:#a5a5a5;font-weight:400;letter-spacing:0.440px;">Бюджет<span class="bl"></span></div>
<div id="t99" class="t" style="left:44.6px;top:369.81px;font-size:10.753px;color:#4f84e2;font-weight:400;letter-spacing:-0.118px;">Сделка №52<span class="bl"></span></div>
<div id="t100" class="t" style="left:126.8px;top:369.81px;font-size:11.05px;color:#4f84e2;font-weight:400;letter-spacing:-0.118px;">Согл.КП<span class="bl"></span></div>
<div id="t101" class="t" style="left:190.6px;top:369.81px;font-size:11.078px;color:#4f84e2;font-weight:400;letter-spacing:-0.112px;">28,5 млн<span class="bl"></span></div>
<div id="t102" class="t" style="left:44.6px;top:395.60px;font-size:10.744px;color:#4f84e2;font-weight:400;letter-spacing:-0.113px;">Сделка №8<span class="bl"></span></div>
<div id="t103" class="t" style="left:126.8px;top:395.61px;font-size:11.05px;color:#4f84e2;font-weight:400;letter-spacing:-0.118px;">Согл.КП<span class="bl"></span></div>
<div id="t104" class="t" style="left:190.6px;top:395.61px;font-size:10.735px;color:#4f84e2;font-weight:400;letter-spacing:-0.111px;">5,7 млн<span class="bl"></span></div>
<div id="t105" class="t" style="left:44.6px;top:421.91px;font-size:10.494px;color:#4f84e2;font-weight:400;letter-spacing:-0.114px;">Сделка №21<span class="bl"></span></div>
<div id="t106" class="t" style="left:126.8px;top:420.91px;font-size:11.05px;color:#4f84e2;font-weight:400;letter-spacing:-0.118px;">Согл.КП<span class="bl"></span></div>
<div id="t107" class="t" style="left:190.6px;top:421.90px;font-size:10.35px;color:#4f84e2;font-weight:400;letter-spacing:-0.198px;">1,2 млн<span class="bl"></span></div>
<div id="t108" class="t" style="left:44.4px;top:453.80px;font-size:8.8px;color:#4f84e2;font-weight:400;letter-spacing:-0.057px;">Показать все<span class="bl"></span></div>
<div style="position:absolute;left:99.6px;top:451.9px;width:20.5px;height:11.1px;border-radius:5.6px;background:#4a80e0"></div>
<div id="t109" class="t" style="left:-40px;width:300px;text-align:center;top:453.01px;font-size:8.4px;color:#fff;font-weight:700;">50<span class="bl"></span></div>
</body></html>
